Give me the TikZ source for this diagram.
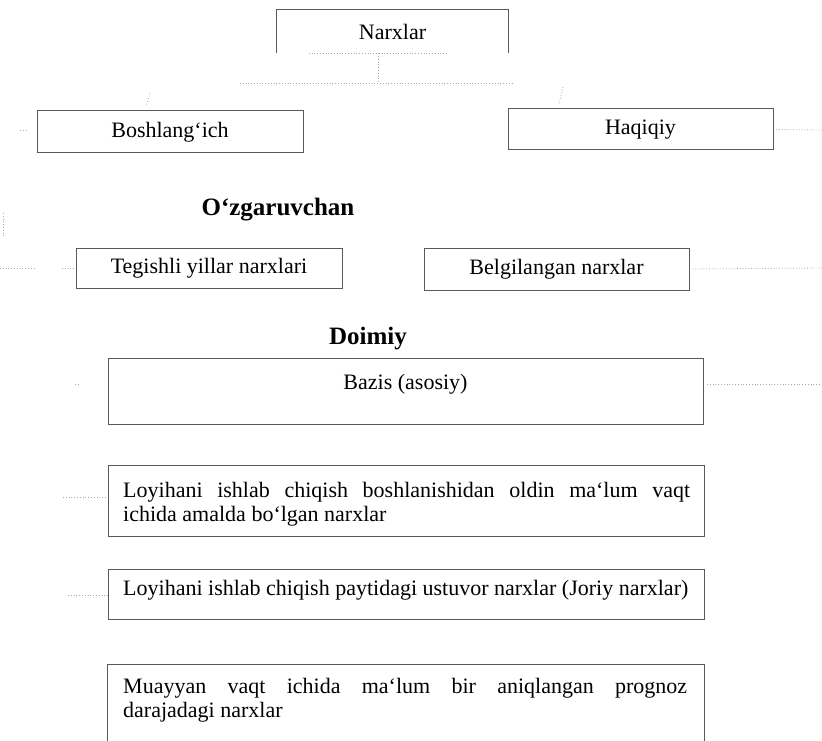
\documentclass[tikz,border=0pt]{standalone}
\usepackage{fontspec}
\setmainfont{Liberation Serif}
\begin{document}
\begin{tikzpicture}[x=1pt,y=-1pt,
  edge/.style={draw=black!65, line width=1pt},
  box/.style={edge, rectangle, inner sep=0pt, font=\fontsize{22}{24}\selectfont},
  lbl/.style={inner sep=0pt, font=\fontsize{22}{24}\selectfont},
  head/.style={inner sep=0pt, font=\fontsize{25}{28}\selectfont\bfseries},
  faint/.style={draw=black!35, dotted, line width=0.8pt}]
\useasboundingbox (0,0) rectangle (822,741);

% top box (open bottom)
\node[lbl, minimum width=231pt, minimum height=43pt] (narx) at (392.5,31.5) {Narxlar};
\draw[edge] (narx.south west) -- (narx.north west) -- (narx.north east) -- (narx.south east);
\draw[faint] ([xshift=32pt]narx.south west) -- ([xshift=-62pt]narx.south east);

% faint connector remnants
\coordinate (hub) at (378,83);
\coordinate (hl) at (240,83);
\coordinate (hr) at (512,83);
\draw[faint] (narx.south -| hub) -- (hub);
\draw[faint] (hl) -- (hr);
\coordinate (ma1) at (150,93);
\coordinate (ma2) at (146,106);
\coordinate (mb1) at (563,87);
\coordinate (mb2) at (559,104);
\draw[faint] (ma1) -- (ma2);
\draw[faint] (mb1) -- (mb2);

% second level
\node[box, minimum width=266pt, minimum height=42pt] (bosh) at (170,132) {Boshlang‘ich};
\node[box, minimum width=265pt, minimum height=41pt] (haq) at (640.5,129.5) {Haqiqiy};
\coordinate (haqR) at (822,130);
\draw[faint] (haq.east) -- (haqR);
\coordinate (lt1) at (20,130);
\coordinate (lt2) at (28,130);
\draw[faint] (lt1) -- (lt2);

% O'zgaruvchan
\node[head] (ozg) at (278,210) {O‘zgaruvchan};
\coordinate (lv1) at (3,213);
\coordinate (lv2) at (3,238);
\draw[faint] (lv1) -- (lv2);

\node[box, minimum width=266pt, minimum height=40pt] (teg) at (209,268) {Tegishli yillar narxlari};
\node[box, minimum width=265pt, minimum height=42pt] (belg) at (556.5,269) {Belgilangan narxlar};
\coordinate (belgR) at (822,268);
\draw[faint] (belg.east) -- (belgR);
\coordinate (tl1) at (0,268);
\coordinate (tl2) at (36,268);
\coordinate (tl3) at (62,268);
\draw[faint] (tl1) -- (tl2);
\draw[faint] (tl3) -- (teg.west);

% Doimiy
\node[head] (doim) at (368,339) {Doimiy};

\node[box, minimum width=595pt, minimum height=66pt] (baz) at (405.5,391) {};
\node[lbl] (bazt) at (405.5,384) {Bazis (asosiy)};
\coordinate (bazR1) at (707,384);
\coordinate (bazR) at (822,384);
\draw[faint] (bazR1) -- (bazR);
\coordinate (bl1) at (75,384);
\coordinate (bl2) at (80,384);
\draw[faint] (bl1) -- (bl2);

% box 1
\node[box, minimum width=596pt, minimum height=71pt] (b1) at (406,500.5) {};
\node[lbl, anchor=base west] (b1a) at (123,497) {\hbox to 567pt{Loyihani\hfill ishlab\hfill chiqish\hfill boshlanishidan\hfill oldin\hfill ma‘lum\hfill vaqt}};
\node[lbl, anchor=base west] (b1b) at (123,521) {ichida amalda bo‘lgan narxlar};
\coordinate (c1) at (63,497);
\draw[faint] (c1) -- (b1.west |- c1);

% box 2
\node[box, minimum width=596pt, minimum height=50pt] (b2) at (406,594) {};
\node[lbl, anchor=base west] (b2a) at (123,595) {Loyihani ishlab chiqish paytidagi ustuvor narxlar (Joriy narxlar)};
\coordinate (c2) at (68,595);
\draw[faint] (c2) -- (b2.west |- c2);

% box 3 (open at bottom, cut by page)
\node[inner sep=0pt, minimum width=596pt, minimum height=80pt] (b3) at (406,705) {};
\draw[edge] (b3.south west) -- (b3.north west) -- (b3.north east) -- (b3.south east);
\node[lbl, anchor=base west] (b3a) at (123,693) {\hbox to 564pt{Muayyan\hfill vaqt\hfill ichida\hfill ma‘lum\hfill bir\hfill aniqlangan\hfill prognoz}};
\node[lbl, anchor=base west] (b3b) at (123,717) {darajadagi narxlar};
\end{tikzpicture}
\end{document}
